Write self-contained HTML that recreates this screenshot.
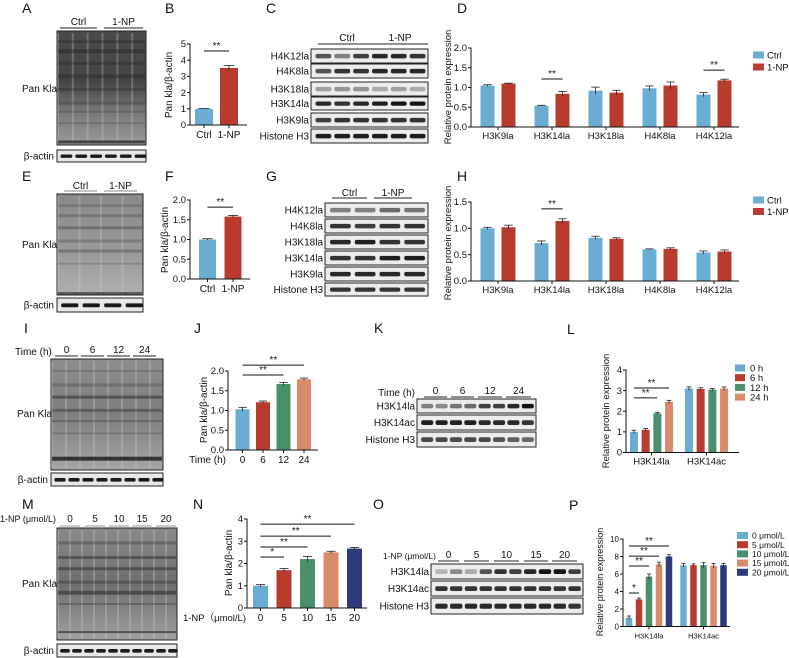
<!DOCTYPE html>
<html><head><meta charset="utf-8"><style>
html,body{margin:0;padding:0;background:#fff;}
svg{display:block;font-family:"Liberation Sans",Arial,sans-serif;}
text{fill:#111;}
</style></head><body>
<svg id="fig" width="789" height="658" viewBox="0 0 789 658" xmlns="http://www.w3.org/2000/svg">
<defs>
<linearGradient id="gA" x1="0" y1="0" x2="0" y2="1"><stop offset="0" stop-color="#4a4a4a"/><stop offset="0.45" stop-color="#454545"/><stop offset="0.7" stop-color="#777"/><stop offset="1" stop-color="#999"/></linearGradient>
<linearGradient id="gE" x1="0" y1="0" x2="0" y2="1"><stop offset="0" stop-color="#8a8a8a"/><stop offset="0.6" stop-color="#9a9a9a"/><stop offset="1" stop-color="#b0b0b0"/></linearGradient>
<linearGradient id="gI" x1="0" y1="0" x2="0" y2="1"><stop offset="0" stop-color="#8d8d8d"/><stop offset="0.5" stop-color="#7e7e7e"/><stop offset="1" stop-color="#a5a5a5"/></linearGradient>
<linearGradient id="gM" x1="0" y1="0" x2="0" y2="1"><stop offset="0" stop-color="#8a8a8a"/><stop offset="0.5" stop-color="#6e6e6e"/><stop offset="1" stop-color="#a0a0a0"/></linearGradient>
</defs>
</svg>
<script>
// ---------- chart data ----------
const bCats = ['Ctrl', '1-NP'];
const bVals = [1.0, 3.52];
const bSem = [0.02, 0.15];
const bTicks = [0, 1, 2, 3, 4, 5];
const bTickLabels = ['0', '1', '2', '3', '4', '5'];
const bSig = [[0, 1, 4.57, '**']];

const fCats = ['Ctrl', '1-NP'];
const fVals = [1.0, 1.58];
const fSem = [0.02, 0.03];
const fTicks = [0, 0.5, 1.0, 1.5, 2.0];
const fTickLabels = ['0.0', '0.5', '1.0', '1.5', '2.0'];
const fSig = [[0, 1, 1.82, '**']];

const jCats = ['0', '6', '12', '24'];
const jVals = [1.03, 1.21, 1.67, 1.79];
const jSem = [0.05, 0.03, 0.04, 0.03];
const jTicks = [0, 0.5, 1.0, 1.5, 2.0];
const jTickLabels = ['0.0', '0.5', '1.0', '1.5', '2.0'];
const jSig = [[0, 2, 1.9, '**'], [0, 3, 2.15, '**']];

const nCats = ['0', '5', '10', '15', '20'];
const nVals = [1.0, 1.7, 2.2, 2.5, 2.67];
const nSem = [0.05, 0.08, 0.12, 0.05, 0.05];
const nTicks = [0, 1, 2, 3, 4];
const nTickLabels = ['0', '1', '2', '3', '4'];
const nSig = [[0, 1, 2.29, '*'], [0, 2, 2.74, '**'], [0, 3, 3.23, '**'], [0, 4, 3.77, '**']];

const dCats = ['H3K9la', 'H3K14la', 'H3K18la', 'H4K8la', 'H4K12la'];
const dSeriesNames = ['Ctrl', '1-NP'];
const dCtrl = [1.05, 0.54, 0.92, 0.98, 0.82];
const dNP = [1.10, 0.84, 0.87, 1.05, 1.18];
const dCtrlSem = [0.02, 0.01, 0.09, 0.06, 0.05];
const dNPSem = [0.01, 0.06, 0.06, 0.09, 0.03];
const dTicks = [0, 0.5, 1.0, 1.5, 2.0];
const dTickLabels = ['0.0', '0.5', '1.0', '1.5', '2.0'];
const dSig = [[1, 0, 1, 1, 1.215, '**'], [4, 0, 4, 1, 1.44, '**']];

const hCats = ['H3K9la', 'H3K14la', 'H3K18la', 'H4K8la', 'H4K12la'];
const hSeriesNames = ['Ctrl', '1-NP'];
const hCtrl = [1.0, 0.72, 0.82, 0.60, 0.54];
const hNP = [1.02, 1.14, 0.80, 0.61, 0.56];
const hCtrlSem = [0.02, 0.04, 0.03, 0.01, 0.03];
const hNPSem = [0.04, 0.04, 0.02, 0.02, 0.03];
const hTicks = [0, 0.5, 1.0, 1.5];
const hTickLabels = ['0.0', '0.5', '1.0', '1.5'];
const hSig = [[1, 0, 1, 1, 1.37, '**']];

const lCats = ['H3K14la', 'H3K14ac'];
const lSeriesNames = ['0 h', '6 h', '12 h', '24 h'];
const l0h = [1.0, 3.1];
const l6h = [1.1, 3.08];
const l12h = [1.9, 3.05];
const l24h = [2.45, 3.1];
const lSem = [0.08, 0.06, 0.05, 0.08];
const lTicks = [0, 1, 2, 3, 4];
const lTickLabels = ['0', '1', '2', '3', '4'];
const lSig = [[0, 0, 0, 2, 2.65, '**'], [0, 0, 0, 3, 3.13, '**']];

const pCats = ['H3K14la', 'H3K14ac'];
const pSeriesNames = ['0 μmol/L', '5 μmol/L', '10 μmol/L', '15 μmol/L', '20 μmol/L'];
const p0 = [1.0, 7.0];
const p5 = [3.1, 7.0];
const p10 = [5.7, 7.0];
const p15 = [7.1, 6.95];
const p20 = [8.0, 7.0];
const pSem = [0.2, 0.15, 0.3, 0.25, 0.2];
const pTicks = [0, 2, 4, 6, 8, 10];
const pTickLabels = ['0', '2', '4', '6', '8', '10'];
const pSig = [[0, 0, 0, 1, 3.83, '*'], [0, 0, 0, 2, 6.91, '**'], [0, 0, 0, 3, 8.05, '**'], [0, 0, 0, 4, 9.2, '**']];

// ---------- helpers ----------
const NS = 'http://www.w3.org/2000/svg';
const svg = document.getElementById('fig');
const COLORS = ['#6aadd2', '#b93b2e', '#4a8f6c', '#d98a6c', '#2e3a7a'];
function mk(tag, attrs, parent) {
  const e = document.createElementNS(NS, tag);
  for (const k in attrs) e.setAttribute(k, attrs[k]);
  (parent || svg).appendChild(e);
  return e;
}
function txt(x, y, s, size, anchor, parent, extra) {
  const t = mk('text', Object.assign({x: x, y: y, 'font-size': size, 'text-anchor': anchor || 'start'}, extra || {}), parent);
  t.textContent = s;
  return t;
}
function grp(parent) { return mk('g', {}, parent); }

function panelLetter(x, y, s) {
  const t = txt(x, y, s, 14, 'start');
  
  
}

function scaleY(cfg) { return v => cfg.y0 - v * (cfg.y0 - cfg.yTop) / cfg.max; }

function drawAxes(g, cfg, ticks, labels, fs) {
  const y = scaleY(cfg);
  const ya = mk('line', {x1: cfg.ax, y1: cfg.yTop - 0.5, x2: cfg.ax, y2: cfg.y0, stroke: '#111', 'stroke-width': 1}, g);
  
  
  const xa = mk('line', {x1: cfg.ax, y1: cfg.y0, x2: cfg.xEnd, y2: cfg.y0, stroke: '#111', 'stroke-width': 1}, g);
  
  
  ticks.forEach((v, i) => {
    mk('line', {x1: cfg.ax - 3, y1: y(v), x2: cfg.ax, y2: y(v), stroke: '#111', 'stroke-width': 1}, g);
    const t = txt(cfg.ax - 4, y(v) + 3.2, labels[i], fs || 9, 'end', g);
    
    
  });
}
function yTitle(g, x, y, s, fs) {
  const t = txt(0, 0, s, fs || 9.5, 'middle', g, {transform: 'translate(' + x + ',' + y + ') rotate(-90)'});
  
  
}
function errBar(g, cx, top, sem, y, v, w) {
  const a = y(v + sem), b = y(v - sem);
  mk('line', {x1: cx, y1: a, x2: cx, y2: b, stroke: '#222', 'stroke-width': 0.8}, g);
  mk('line', {x1: cx - w, y1: a, x2: cx + w, y2: a, stroke: '#222', 'stroke-width': 0.8}, g);
}
function sigLine(g, x1, x2, yy, label) {
  const l = mk('line', {x1: x1, y1: yy, x2: x2, y2: yy, stroke: '#111', 'stroke-width': 1}, g);
  
  
  const t = txt((x1 + x2) / 2, yy - 2, label, 10, 'middle', g);
  
  
}

function simpleChart(name, cfg, cats, vals, sem, ticks, tickLabels, sig, colors) {
  const g = grp();
  
  
  const y = scaleY(cfg);
  const cx = i => cfg.c0 + i * cfg.step;
  vals.forEach((v, i) => {
    const r = mk('rect', {x: cx(i) - cfg.bw / 2, y: y(v), width: cfg.bw, height: cfg.y0 - y(v), fill: colors[i]}, g);
    
    
    errBar(g, cx(i), 0, sem[i], y, v, cfg.bw * 0.3);
  });
  drawAxes(g, cfg, ticks, tickLabels, cfg.fs);
  cats.forEach((c, i) => {
    mk('line', {x1: cx(i), y1: cfg.y0, x2: cx(i), y2: cfg.y0 + 3, stroke: '#111'}, g);
    const t = txt(cx(i), cfg.y0 + 13, c, cfg.cfs || 10, 'middle', g);
    
    
  });
  sig.forEach(s => sigLine(g, cx(s[0]), cx(s[1]), y(s[2]), s[3]));
  return g;
}

function groupedChart(name, cfg, cats, series, sems, ticks, tickLabels, sig, colors) {
  const g = grp();
  
  
  const y = scaleY(cfg);
  const ns = series.length;
  const bx = (gi, si) => cfg.c0 + gi * cfg.step + (si - (ns - 1) / 2) * cfg.off;
  series.forEach((arr, si) => {
    arr.forEach((v, gi) => {
      const r = mk('rect', {x: bx(gi, si) - cfg.bw / 2, y: y(v), width: cfg.bw, height: cfg.y0 - y(v), fill: colors[si]}, g);
      
      
      const sm = Array.isArray(sems[si]) ? sems[si][gi] : sems[si];
      errBar(g, bx(gi, si), 0, sm, y, v, cfg.bw * 0.3);
    });
  });
  drawAxes(g, cfg, ticks, tickLabels, cfg.fs);
  cats.forEach((c, gi) => {
    const cx = cfg.c0 + gi * cfg.step;
    mk('line', {x1: cx, y1: cfg.y0, x2: cx, y2: cfg.y0 + 3, stroke: '#111'}, g);
    const t = txt(cx, cfg.y0 + 12, c, cfg.cfs || 9.5, 'middle', g);
    
    
  });
  sig.forEach(s => sigLine(g, bx(s[0], s[1]), bx(s[2], s[3]), y(s[4]), s[5]));
  return g;
}

function legend(name, x, y0, dy, names, colors, sw, sh, fs, gap) {
  const g = grp();
  
  
  names.forEach((n, i) => {
    const r = mk('rect', {x: x, y: y0 + i * dy - sh / 2, width: sw, height: sh, fill: colors[i]}, g);
    
    
    const t = txt(x + sw + (gap || 5), y0 + i * dy + fs * 0.36, n, fs, 'start', g);
    
    
  });
}

// western blot row
function blotRow(x, y, w, h, label, lanes, dark, fs) {
  const g = grp();
  
  
  mk('rect', {x: x, y: y, width: w, height: h, fill: '#ececec', stroke: '#222', 'stroke-width': 1}, g);
  const lw = (w - 4) / lanes;
  for (let i = 0; i < lanes; i++) {
    const d = dark ? dark[i] : 0.85;
    mk('rect', {x: x + 3 + i * lw + lw * 0.08, y: y + h * 0.35, width: lw * 0.84, height: h * 0.32, rx: 2, fill: '#141414', opacity: d}, g);
  }
  const t = txt(x - 2, y + h / 2 + 3.5, label, fs || 10, 'end', g);
  
  
}
function headerLines(segs, yLine, yText, fs, color) {
  segs.forEach(s => {
    mk('line', {x1: s[0], y1: yLine, x2: s[1], y2: yLine, stroke: color || '#222', 'stroke-width': 1});
    const t = txt((s[0] + s[1]) / 2, yText, s[2], fs || 10, 'middle');
    
    
  });
}
function panBlot(name, x, y, w, h, grad, lanes, bands, actinY, actinH) {
  const g = grp();
  
  
  mk('rect', {x: x, y: y, width: w, height: h, fill: 'url(#' + grad + ')', stroke: '#222', 'stroke-width': 1}, g);
  const lw = w / lanes;
  for (let i = 0; i < lanes; i++) {
    mk('rect', {x: x + i * lw, y: y + 2, width: 2, height: h - 4, fill: '#d0d0d0', opacity: 0.3}, g);
  }
  bands.forEach(b => {
    mk('rect', {x: x + 1, y: y + b[0] * h, width: w - 2, height: b[1], fill: '#222', opacity: b[2]}, g);
  });
  mk('rect', {x: x, y: actinY, width: w, height: actinH, fill: '#e8e8e8', stroke: '#222', 'stroke-width': 1}, g);
  for (let i = 0; i < lanes; i++) {
    mk('rect', {x: x + 2 + i * lw + lw * 0.1, y: actinY + actinH * 0.38, width: lw * 0.8, height: actinH * 0.28, rx: 1.5, fill: '#1a1a1a'}, g);
  }
  const t1 = txt(x - 3, actinY + actinH / 2 + 3.5, 'β-actin', 10, 'end', g);
  
  
}

// ---------- panel letters ----------
panelLetter(22, 13, 'A'); panelLetter(165, 13, 'B'); panelLetter(266, 13, 'C'); panelLetter(457, 13, 'D');
panelLetter(22, 181, 'E'); panelLetter(165, 181, 'F'); panelLetter(266, 181, 'G'); panelLetter(457, 181, 'H');
panelLetter(24, 333, 'I'); panelLetter(194, 333, 'J'); panelLetter(374, 333, 'K'); panelLetter(567, 334, 'L');
panelLetter(22, 509, 'M'); panelLetter(193, 509, 'N'); panelLetter(373, 509, 'O'); panelLetter(569, 510, 'P');

// ---------- A ----------
headerLines([[60, 97, 'Ctrl'], [104, 143, '1-NP']], 28, 25, 10);
panBlot('pan-kla-blot-a', 57, 31, 89, 114, 'gA', 6,
  [[0.08, 3, 0.35], [0.16, 4, 0.45], [0.27, 3, 0.35], [0.38, 4, 0.4], [0.5, 3, 0.3], [0.62, 3, 0.25], [0.7, 2, 0.25], [0.8, 2, 0.2], [0.96, 3, 0.7]], 150, 12);
(function(){const t = txt(22, 92, 'Pan Kla', 10, 'start');  })();

// ---------- B ----------
simpleChart('bar-chart-b', {ax: 190, yTop: 44, y0: 125, max: 5, xEnd: 247, c0: 204, step: 25, bw: 18, fs: 9.5, cfs: 10}, bCats, bVals, bSem, bTicks, bTickLabels, bSig, COLORS);
yTitle(svg, 172, 85, 'Pan kla/β-actin', 10);

// ---------- C ----------
headerLines([[318, 376, 'Ctrl'], [372, 428, '1-NP']], 44, 41, 10);
blotRow(311, 49, 117, 14, 'H4K12la', 6, [0.7, 0.5, 0.8, 0.9, 0.9, 0.85]);
blotRow(311, 64, 117, 14, 'H4K8la', 6, [0.7, 0.85, 0.85, 0.9, 0.9, 0.9]);
blotRow(311, 82, 117, 14, 'H3K18la', 6, [0.35, 0.4, 0.4, 0.3, 0.35, 0.3]);
blotRow(311, 97, 117, 13, 'H3K14la', 6, [0.9, 0.85, 0.9, 0.95, 1, 1]);
blotRow(311, 113, 117, 14, 'H3K9la', 6, [0.8, 0.85, 0.85, 0.85, 0.85, 0.85]);
blotRow(311, 129, 117, 14, 'Histone H3', 6, [0.95, 0.95, 0.95, 0.95, 0.95, 0.95]);

// ---------- D ----------
groupedChart('bar-chart-d', {ax: 471, yTop: 48, y0: 127, max: 2, xEnd: 739, c0: 498, step: 54, off: 21, bw: 14, fs: 9.5, cfs: 9.5},
  dCats, [dCtrl, dNP], [dCtrlSem, dNPSem], dTicks, dTickLabels, dSig, COLORS);
yTitle(svg, 451, 87, 'Relative protein expression', 9.5);
legend('legend-d', 753, 55, 12, dSeriesNames, COLORS, 11, 7, 9.5, 3);

// ---------- E ----------
headerLines([[64, 97, 'Ctrl'], [104, 137, '1-NP']], 191, 189, 10, '#888');
panBlot('pan-kla-blot-e', 57, 194, 86, 101, 'gE', 4,
  [[0.1, 3, 0.2], [0.2, 3, 0.25], [0.32, 3, 0.3], [0.45, 3, 0.25], [0.55, 3, 0.3], [0.68, 2, 0.2], [0.97, 3, 0.6]], 298, 14);
(function(){const t = txt(22, 248, 'Pan Kla', 10, 'start');  })();

// ---------- F ----------
simpleChart('bar-chart-f', {ax: 190, yTop: 200, y0: 279, max: 2, xEnd: 250, c0: 207.5, step: 25.5, bw: 17, fs: 9.5, cfs: 10}, fCats, fVals, fSem, fTicks, fTickLabels, fSig, COLORS);
yTitle(svg, 168, 240, 'Pan kla/β-actin', 10);

// ---------- G ----------
headerLines([[332, 367, 'Ctrl'], [374, 412, '1-NP']], 198, 196, 10);
blotRow(325, 203, 103, 14, 'H4K12la', 4, [0.5, 0.5, 0.6, 0.55]);
blotRow(325, 219, 103, 14, 'H4K8la', 4, [0.85, 0.8, 0.85, 0.85]);
blotRow(325, 235, 103, 14, 'H3K18la', 4, [0.9, 0.95, 0.85, 0.85]);
blotRow(325, 251, 103, 14, 'H3K14la', 4, [0.85, 0.85, 0.95, 0.95]);
blotRow(325, 267, 103, 14, 'H3K9la', 4, [0.9, 0.9, 0.9, 0.9]);
blotRow(325, 283, 103, 13, 'Histone H3', 4, [0.85, 0.85, 0.85, 0.85]);

// ---------- H ----------
groupedChart('bar-chart-h', {ax: 471, yTop: 202, y0: 281, max: 1.5, xEnd: 739, c0: 498, step: 54, off: 21, bw: 14, fs: 9.5, cfs: 9.5},
  hCats, [hCtrl, hNP], [hCtrlSem, hNPSem], hTicks, hTickLabels, hSig, COLORS);
yTitle(svg, 451, 243, 'Relative protein expression', 9.5);
legend('legend-h', 753, 200, 11.5, hSeriesNames, COLORS, 11, 7, 9.5, 3);

// ---------- I ----------
(function(){const t = txt(15, 355, 'Time (h)', 10, 'start');  })();
headerLines([[55, 78, '0'], [81, 104, '6'], [107, 130, '12'], [133, 156, '24']], 356, 353, 10);
panBlot('pan-kla-blot-i', 51, 359, 112, 111, 'gI', 8,
  [[0.1, 2, 0.2], [0.22, 3, 0.25], [0.33, 3, 0.5], [0.45, 3, 0.35], [0.55, 2, 0.3], [0.66, 2, 0.2], [0.88, 4, 0.85]], 473, 13);
(function(){const t = txt(17, 417, 'Pan Kla', 10, 'start');  })();

// ---------- J ----------
simpleChart('bar-chart-j', {ax: 228, yTop: 371, y0: 450, max: 2, xEnd: 318, c0: 242.5, step: 20.5, bw: 14, fs: 9.5, cfs: 10}, jCats, jVals, jSem, jTicks, jTickLabels, jSig, COLORS);
yTitle(svg, 207, 410, 'Pan kla/β-actin', 10);
(function(){const t = txt(226, 463, 'Time (h)', 10, 'end');  })();

// ---------- K ----------
(function(){const t = txt(415, 396, 'Time (h)', 10, 'end');  })();
headerLines([[424, 447, '0'], [451, 474, '6'], [478, 502, '12'], [506, 531, '24']], 397, 394, 10);
blotRow(417, 399, 119, 14, 'H3K14la', 8, [0.5, 0.45, 0.55, 0.6, 0.8, 0.8, 0.9, 1]);
blotRow(417, 415, 119, 15, 'H3K14ac', 8, [0.95, 0.95, 0.95, 0.95, 0.9, 0.9, 0.9, 0.85]);
blotRow(417, 432, 119, 15, 'Histone H3', 8, [0.75, 0.75, 0.75, 0.75, 0.75, 0.7, 0.65, 0.6]);

// ---------- L ----------
groupedChart('bar-chart-l', {ax: 626, yTop: 370, y0: 452.5, max: 4, xEnd: 739, c0: 651.5, step: 55, off: 11.7, bw: 8, fs: 9.5, cfs: 9.5},
  lCats, [l0h, l6h, l12h, l24h], lSem, lTicks, lTickLabels, lSig, COLORS);
yTitle(svg, 609, 411, 'Relative protein expression', 9.5);
legend('legend-l', 735, 368, 9.7, lSeriesNames, COLORS, 10, 7, 9.5);

// ---------- M ----------
(function(){const t = txt(0, 522, '1-NP (μmol/L)', 9, 'start');  })();
headerLines([[60, 80, '0'], [85, 105, '5'], [109, 129, '10'], [132, 152, '15'], [156, 176, '20']], 526, 522, 10, '#999');
panBlot('pan-kla-blot-m', 57, 528, 120, 112, 'gM', 10,
  [[0.12, 3, 0.3], [0.25, 3, 0.45], [0.35, 3, 0.45], [0.47, 3, 0.35], [0.56, 4, 0.5], [0.67, 2, 0.3], [0.92, 2, 0.6]], 644, 13);
(function(){const t = txt(22, 587, 'Pan Kla', 10, 'start');  })();

// ---------- N ----------
simpleChart('bar-chart-n', {ax: 247, yTop: 519, y0: 608, max: 4, xEnd: 367, c0: 260.5, step: 23.5, bw: 15, fs: 9.5, cfs: 10}, nCats, nVals, nSem, nTicks, nTickLabels, nSig, COLORS);
yTitle(svg, 232, 563, 'Pan kla/β-actin', 10);
(function(){const t = txt(246, 621, '1-NP（μmol/L)', 9.5, 'end', null, {'font-family': '"Liberation Sans","Noto Sans CJK SC",sans-serif'});  })();

// ---------- O ----------
(function(){const t = txt(383, 559, '1-NP (μmol/L)', 8.5, 'start');  })();
headerLines([[438, 459, '0'], [464, 489, '5'], [494, 519, '10'], [524, 548, '15'], [552, 577, '20']], 561, 558, 10);
blotRow(431, 564, 152, 15, 'H3K14la', 10, [0.25, 0.45, 0.3, 0.7, 0.85, 0.8, 0.9, 1, 1, 0.8]);
blotRow(431, 581, 152, 15, 'H3K14ac', 10, [0.85, 0.85, 0.85, 0.85, 0.85, 0.85, 0.85, 0.85, 0.85, 0.85]);
blotRow(431, 598, 152, 16, 'Histone H3', 10, [0.9, 0.9, 0.9, 0.9, 0.9, 0.9, 0.9, 0.9, 0.9, 0.85]);

// ---------- P ----------
groupedChart('bar-chart-p', {ax: 623, yTop: 539, y0: 626.5, max: 10, xEnd: 730, c0: 649, step: 54.5, off: 10, bw: 6.5, fs: 8, cfs: 7.5},
  pCats, [p0, p5, p10, p15, p20], pSem, pTicks, pTickLabels, pSig, COLORS);
yTitle(svg, 603, 582, 'Relative protein expression', 9);
legend('legend-p', 737, 535.5, 9.2, pSeriesNames, COLORS, 11, 7, 8.5, 4);
</script>
</body></html>
